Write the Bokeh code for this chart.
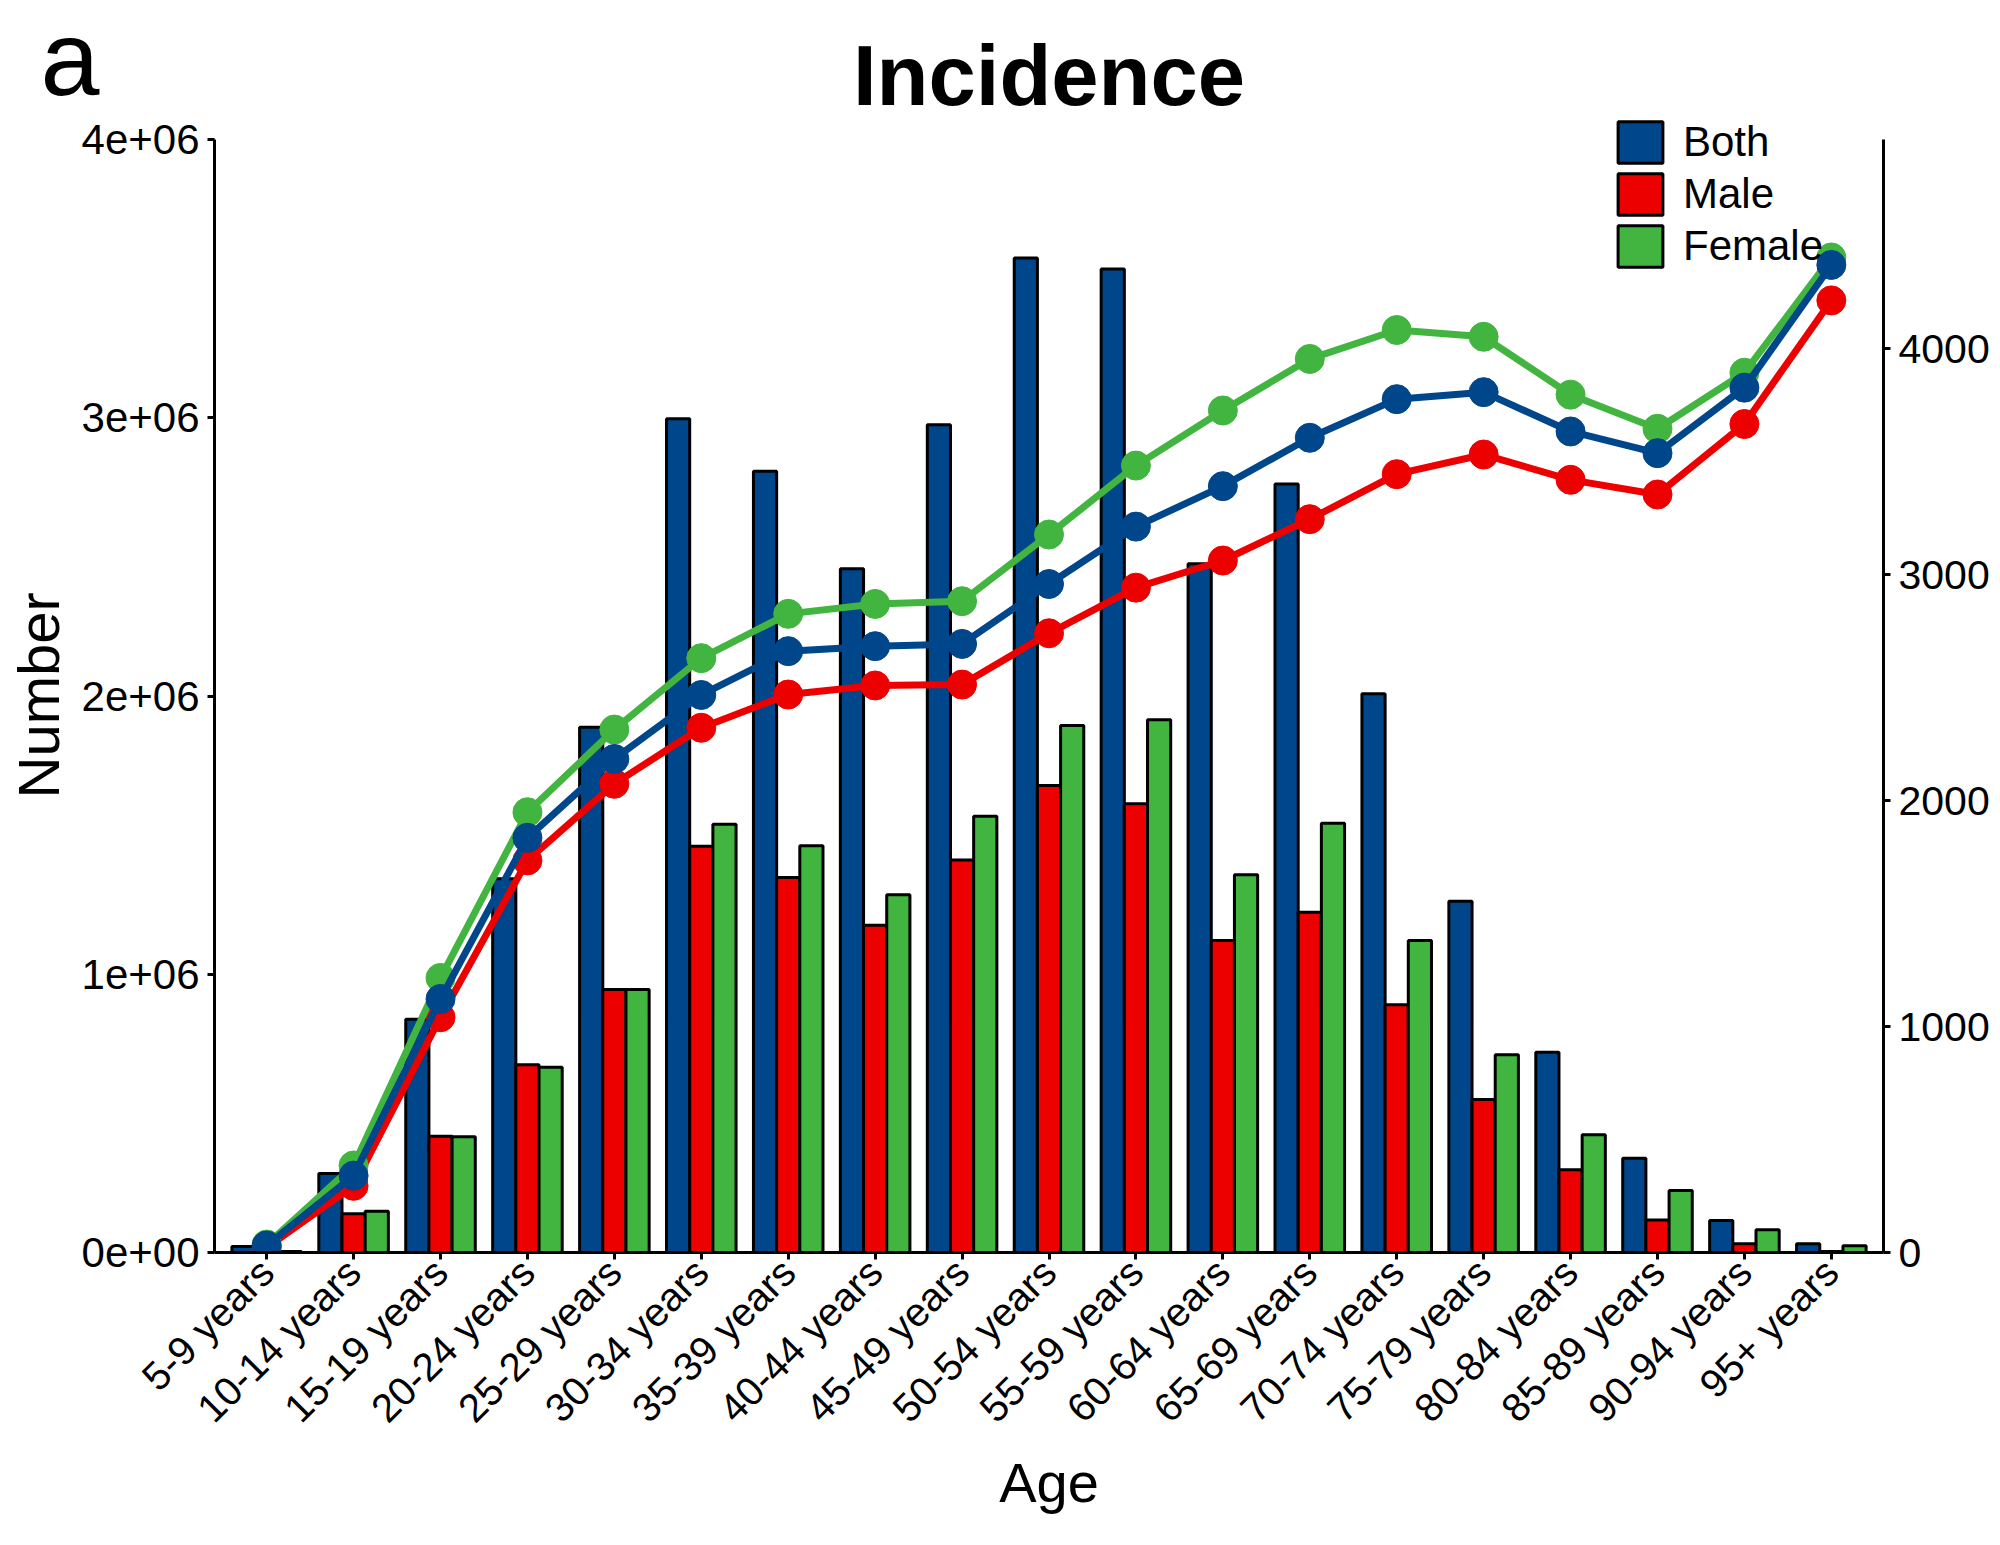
import math
from bokeh.plotting import figure
from bokeh.models import (Range1d, LinearAxis, FixedTicker, Legend, LegendItem, Title,
                          ColumnDataSource)
from bokeh.transform import dodge
from bokeh.embed import file_html
from bokeh.resources import INLINE

# ---------------- data ----------------
ages = ["5-9 years", "10-14 years", "15-19 years", "20-24 years", "25-29 years",
        "30-34 years", "35-39 years", "40-44 years", "45-49 years", "50-54 years",
        "55-59 years", "60-64 years", "65-69 years", "70-74 years", "75-79 years",
        "80-84 years", "85-89 years", "90-94 years", "95+ years"]

number_both = [22000, 284000, 838000, 1343000, 1888000, 2996000, 2808000, 2457000,
               2975000, 3574000, 3535000, 2475000, 2762000, 2008000, 1262000,
               720000, 339000, 115000, 31000]
number_male = [5000, 139000, 418000, 675000, 945000, 1460000, 1348000, 1176000,
               1411000, 1678000, 1613000, 1121000, 1223000, 890000, 550000,
               297000, 117000, 31000, 4000]
number_female = [4000, 148000, 416000, 666000, 945000, 1539000, 1462000, 1286000,
                 1568000, 1894000, 1915000, 1358000, 1543000, 1121000, 711000,
                 423000, 223000, 82000, 24000]

rate_both = [31, 340, 1122, 1835, 2184, 2467, 2661, 2683, 2693, 2958, 3212, 3391,
             3605, 3776, 3807, 3633, 3537, 3827, 4370]
rate_male = [22, 295, 1041, 1735, 2074, 2322, 2469, 2509, 2513, 2740, 2942, 3062,
             3245, 3444, 3531, 3419, 3354, 3666, 4213]
rate_female = [35, 385, 1215, 1948, 2314, 2630, 2826, 2870, 2882, 3177, 3482, 3726,
               3954, 4082, 4052, 3796, 3645, 3893, 4403]

left_ticks = [0, 1000000, 2000000, 3000000, 4000000]
left_tick_labels = ["0e+00", "1e+06", "2e+06", "3e+06", "4e+06"]
right_ticks = [0, 1000, 2000, 3000, 4000]
left_max = 4000000
right_max = 4925

series_names = ["Both", "Male", "Female"]
colors = {"Both": "#00468B", "Male": "#ED0000", "Female": "#42B540"}

FONT = "Liberation Sans"

# ---------------- layout constants (pixels) ----------------
W, H = 1992, 1537
BORDER_L, BORDER_R, BORDER_T, BORDER_B = 211, 107, 80, 285
FRAME_H = H - BORDER_T - BORDER_B
AXIS_H = 1113                          # pixel length of the 0..4e6 axis
scale_top = FRAME_H / AXIS_H

xs = list(range(1, len(ages) + 1))
src = ColumnDataSource(dict(x=xs, both=number_both, male=number_male, female=number_female,
                            rb=rate_both, rm=rate_male, rf=rate_female))

p = figure(width=W, height=H,
           x_range=Range1d(0.4, len(ages) + 0.6),
           y_range=Range1d(0, left_max * scale_top),
           output_backend="svg", toolbar_location=None,
           min_border_left=BORDER_L, min_border_right=BORDER_R,
           min_border_top=BORDER_T, min_border_bottom=BORDER_B)
p.extra_y_ranges = {"right": Range1d(0, right_max * scale_top)}
p.outline_line_color = None
p.xgrid.visible = False
p.ygrid.visible = False

bw = 0.8 / 3
rb_bar = p.vbar(x=dodge("x", -bw, range=p.x_range), top="both", width=bw, source=src,
                fill_color=colors["Both"], line_color="black", line_width=3)
rm_bar = p.vbar(x=dodge("x", 0, range=p.x_range), top="male", width=bw, source=src,
                fill_color=colors["Male"], line_color="black", line_width=3)
rf_bar = p.vbar(x=dodge("x", bw, range=p.x_range), top="female", width=bw, source=src,
                fill_color=colors["Female"], line_color="black", line_width=3)

for col, name in [("rm", "Male"), ("rf", "Female"), ("rb", "Both")]:
    p.line("x", col, source=src, y_range_name="right", line_color=colors[name], line_width=7)
    p.scatter("x", col, source=src, y_range_name="right", size=29,
              fill_color=colors[name], line_color=colors[name])

# ---------------- axes ----------------
def style_axis(ax, fs):
    ax.axis_line_width = 3
    ax.axis_line_color = "black"
    ax.major_tick_line_width = 3
    ax.major_tick_line_color = "black"
    ax.major_tick_out = 7
    ax.major_tick_in = 0
    ax.minor_tick_line_color = None
    ax.major_label_text_font = FONT
    ax.major_label_text_font_size = fs
    ax.major_label_text_color = "black"
    ax.major_label_standoff = 8
    ax.axis_label_text_font = FONT
    ax.axis_label_text_font_size = "56px"
    ax.axis_label_text_font_style = "normal"
    ax.axis_label_text_color = "black"

xa = p.xaxis[0]
style_axis(xa, "40px")
xa.ticker = FixedTicker(ticks=xs)
xa.major_label_overrides = {x: a for x, a in zip(xs, ages)}
xa.major_label_orientation = math.pi / 4
xa.major_label_standoff = 6
xa.axis_label = "Age"
xa.axis_label_standoff = 2

ya = p.yaxis[0]
style_axis(ya, "42px")
ya.ticker = FixedTicker(ticks=left_ticks)
ya.major_label_overrides = {t: l for t, l in zip(left_ticks, left_tick_labels)}
ya.bounds = (0, left_max)

ra = LinearAxis(y_range_name="right", ticker=FixedTicker(ticks=right_ticks))
style_axis(ra, "41px")
ra.bounds = (0, right_max)
p.add_layout(ra, "right")

# ---------------- titles / labels ----------------
p.title.visible = False
p.add_layout(Title(text="Incidence", align="center", vertical_align="bottom", standoff=-84,
                   text_font=FONT, text_font_size="85px", text_font_style="bold",
                   text_color="black"), "above")
p.add_layout(Title(text="a", align="left", vertical_align="bottom", offset=-174, standoff=-99,
                   text_font=FONT, text_font_size="106px", text_font_style="normal",
                   text_color="black"), "above")
p.add_layout(Title(text="Number", align="left", vertical_align="top", offset=454, standoff=11,
                   text_font=FONT, text_font_size="58px", text_font_style="normal",
                   text_color="black"), "left")

# ---------------- legend ----------------
legend = Legend(items=[LegendItem(label=n, renderers=[r]) for n, r in
                       zip(series_names, [rb_bar, rm_bar, rf_bar])],
                location=(1398, 980), padding=0, margin=0, spacing=0,
                glyph_width=56, glyph_height=52, label_height=52, label_standoff=15,
                label_text_font=FONT, label_text_font_size="42px", label_text_color="black",
                border_line_color=None, background_fill_alpha=0)
p.add_layout(legend)

open("out.html", "w").write(file_html(p, INLINE))
